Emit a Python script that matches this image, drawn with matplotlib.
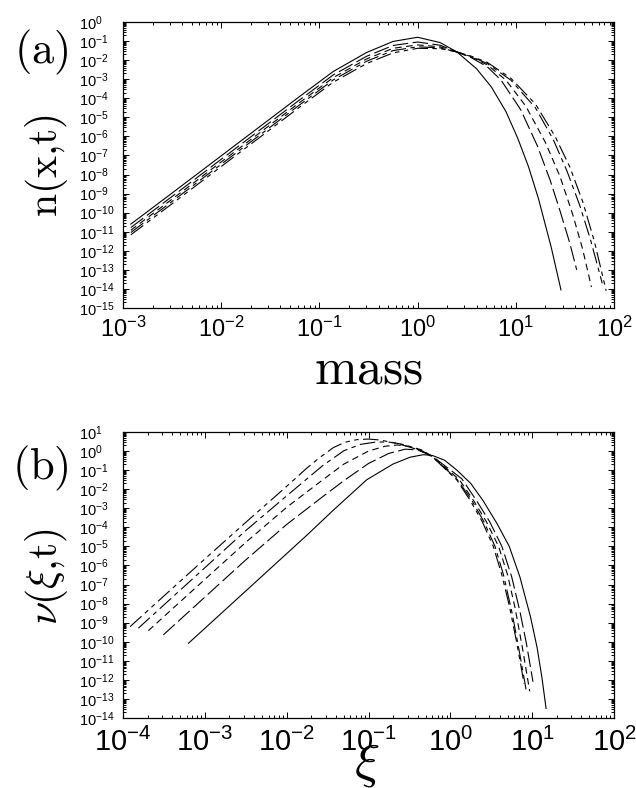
import numpy as np
import matplotlib
matplotlib.use("Agg")
import matplotlib.pyplot as plt
from matplotlib.ticker import LogLocator, FixedLocator, LogFormatterSciNotation, NullFormatter

plt.rcParams['font.family'] = ['Liberation Sans', 'DejaVu Sans']
plt.rcParams['mathtext.fontset'] = 'custom'
plt.rcParams['mathtext.rm'] = 'Liberation Sans'
plt.rcParams['mathtext.it'] = 'Liberation Sans'

# ---- panel (a): log10(mass), log10(n), one pair per curve
a1_lx = [-2.92, -2.5, -2.0, -1.5, -1.2, -0.86, -0.52, -0.25, 0.0, 0.23, 0.40,
         0.60, 0.75, 0.90, 1.02, 1.13, 1.23, 1.36, 1.46]
a1_ly = [-10.60, -8.97, -7.02, -5.07, -3.90, -2.60, -1.60, -1.02, -0.80, -1.08, -1.57,
         -2.45, -3.40, -4.70, -6.10, -7.60, -9.25, -11.80, -14.05]
a2_lx = [-2.92, -2.5, -2.0, -1.5, -1.2, -0.86, -0.52, -0.25, 0.0, 0.23, 0.40,
         0.55, 0.71, 0.85, 1.05, 1.22, 1.35, 1.45, 1.55, 1.62]
a2_ly = [-10.78, -9.15, -7.20, -5.25, -4.08, -2.78, -1.80, -1.23, -1.05, -1.22, -1.57,
         -1.88, -2.35, -3.05, -4.60, -6.50, -8.30, -9.90, -11.60, -13.00]
a3_lx = [-2.92, -2.5, -2.0, -1.5, -1.2, -0.86, -0.52, -0.25, 0.0, 0.23, 0.40,
         0.55, 0.71, 0.90, 1.10, 1.30, 1.45, 1.58, 1.68, 1.77]
a3_ly = [-10.92, -9.29, -7.34, -5.39, -4.22, -2.92, -1.94, -1.38, -1.20, -1.30, -1.57,
         -1.85, -2.25, -3.05, -4.40, -6.30, -8.10, -10.10, -11.90, -13.90]
a4_lx = [-2.92, -2.5, -2.0, -1.5, -1.2, -0.86, -0.52, -0.25, 0.0, 0.23, 0.40,
         0.55, 0.71, 0.95, 1.20, 1.38, 1.52, 1.65, 1.76, 1.88]
a4_ly = [-11.04, -9.41, -7.46, -5.51, -4.34, -3.04, -2.06, -1.50, -1.30, -1.36, -1.57,
         -1.82, -2.18, -3.05, -4.50, -6.15, -7.80, -9.60, -11.40, -13.70]
a5_lx = [-2.92, -2.5, -2.0, -1.5, -1.2, -0.86, -0.52, -0.25, 0.0, 0.23, 0.40,
         0.55, 0.71, 0.95, 1.20, 1.40, 1.55, 1.68, 1.80, 1.92]
a5_ly = [-11.16, -9.53, -7.58, -5.63, -4.46, -3.16, -2.18, -1.62, -1.38, -1.40, -1.57,
         -1.80, -2.12, -2.95, -4.30, -6.00, -7.60, -9.40, -11.50, -14.10]

# ---- panel (b): log10(xi), log10(nu)
b1_lx = [-3.20, -2.5, -2.0, -1.755, -1.43, -1.02, -0.70, -0.49, -0.33, -0.22, -0.07,
         0.08, 0.25, 0.40, 0.57, 0.72, 0.85, 0.98, 1.06, 1.12, 1.17]
b1_ly = [-10.08, -7.34, -5.38, -4.42, -3.10, -1.50, -0.68, -0.32, -0.19, -0.23, -0.48,
         -1.00, -1.70, -2.60, -3.80, -5.00, -6.60, -8.70, -10.30, -11.90, -13.50]
b2_lx = [-3.507, -3.0, -2.5, -2.0, -1.556, -1.3, -1.0, -0.75, -0.55, -0.40, -0.22,
         0.14, 0.32, 0.48, 0.63, 0.75, 0.85, 0.93, 1.01]
b2_ly = [-9.64, -7.66, -5.71, -3.85, -2.38, -1.55, -0.65, -0.12, 0.10, 0.06, -0.27,
         -1.45, -2.60, -3.70, -5.00, -6.60, -8.40, -10.10, -12.10]
b3_lx = [-3.69, -3.0, -2.5, -2.0, -1.556, -1.3, -1.0, -0.8, -0.65, -0.5, -0.35, -0.22,
         0.11, 0.28, 0.44, 0.59, 0.70, 0.79, 0.88, 0.97]
b3_ly = [-9.42, -6.73, -4.79, -2.95, -1.50, -0.68, 0.0, 0.25, 0.32, 0.25, 0.06, -0.28,
         -1.50, -2.57, -3.70, -5.00, -6.50, -8.20, -10.30, -12.60]
b4_lx = [-3.813, -3.5, -3.0, -2.5, -2.0, -1.556, -1.3, -1.1, -0.9, -0.75, -0.6, -0.45,
         -0.33, -0.22, 0.09, 0.26, 0.41, 0.546, 0.65, 0.75, 0.83, 0.88, 0.925]
b4_ly = [-9.29, -8.07, -6.12, -4.17, -2.35, -0.75, 0.02, 0.35, 0.48, 0.47, 0.37, 0.17,
         -0.02, -0.29, -1.52, -2.57, -3.70, -5.00, -6.50, -8.40, -10.20, -11.40, -12.50]
b5_lx = [-3.914, -3.5, -3.0, -2.5, -2.0, -1.755, -1.6, -1.43, -1.29, -1.14, -1.0, -0.86,
         -0.68, -0.49, -0.35, -0.22, 0.08, 0.24, 0.39, 0.525, 0.63, 0.72, 0.80, 0.86, 0.90]
b5_ly = [-9.21, -7.60, -5.66, -3.74, -1.85, -0.90, -0.35, 0.18, 0.46, 0.60, 0.63, 0.58,
         0.43, 0.20, 0.00, -0.30, -1.52, -2.57, -3.70, -5.00, -6.50, -8.10, -9.80, -11.20, -12.20]

styles = ['-', (0, (14, 4)), (0, (6, 4)), (0, (14, 4, 4, 4)), (0, (14, 4, 4, 4, 4, 4))]

panel_a = [(a1_lx, a1_ly), (a2_lx, a2_ly), (a3_lx, a3_ly), (a4_lx, a4_ly), (a5_lx, a5_ly)]
panel_b = [(b1_lx, b1_ly), (b2_lx, b2_ly), (b3_lx, b3_ly), (b4_lx, b4_ly), (b5_lx, b5_ly)]

W, H = 636, 788
fig = plt.figure(figsize=(W / 100, H / 100), dpi=100)


def setup(ax, xlim, ylim, xfs, xpad):
    ax.set_xscale('log')
    ax.set_yscale('log')
    ax.set_xlim(10.0 ** xlim[0], 10.0 ** xlim[1])
    ax.set_ylim(10.0 ** ylim[0], 10.0 ** ylim[1])
    ax.xaxis.set_major_locator(FixedLocator(10.0 ** np.arange(xlim[0], xlim[1] + 1)))
    ax.yaxis.set_major_locator(FixedLocator(10.0 ** np.arange(ylim[0], ylim[1] + 1)))
    for axis in (ax.xaxis, ax.yaxis):
        axis.set_major_formatter(LogFormatterSciNotation())
        axis.set_minor_locator(LogLocator(base=10, subs=np.arange(2, 10), numticks=100))
        axis.set_minor_formatter(NullFormatter())
    ax.tick_params(which='both', direction='in', top=True, right=True, width=0.7)
    ax.tick_params(which='major', length=4.5)
    ax.tick_params(which='minor', length=2.2)
    ax.tick_params(axis='x', labelsize=xfs, pad=xpad)
    ax.tick_params(axis='y', labelsize=10.5, pad=32)
    for lbl in ax.get_yticklabels():
        lbl.set_horizontalalignment('left')
    for sp in ax.spines.values():
        sp.set_linewidth(0.9)


ax1 = fig.add_axes([123 / W, 1 - 308 / H, 491 / W, 286 / H])
for (lx, ly), ls in zip(panel_a, styles):
    ax1.plot(10.0 ** np.array(lx), 10.0 ** np.array(ly), color='black', lw=0.8, linestyle=ls)
setup(ax1, (-3, 2), (-15, 0), 17, 6)

ax2 = fig.add_axes([123 / W, 1 - 718 / H, 491 / W, 286 / H])
for (lx, ly), ls in zip(panel_b, styles):
    ax2.plot(10.0 ** np.array(lx), 10.0 ** np.array(ly), color='black', lw=0.8, linestyle=ls)
setup(ax2, (-4, 2), (-14, 1), 21, 7)

fig.text(41 / W, 1 - 52 / H, r'$\mathrm{(a)}$', fontsize=32, math_fontfamily='cm',
         ha='center', va='center')
fig.text(47 / W, 1 - 165 / H, r'$\mathrm{n(x{,}t)}$', fontsize=30, math_fontfamily='cm',
         ha='center', va='center', rotation=90)
fig.text(369 / W, 1 - 370 / H, r'$\mathrm{mass}$', fontsize=37, math_fontfamily='cm',
         ha='center', va='center')
fig.text(40 / W, 1 - 468 / H, r'$\mathrm{(b)}$', fontsize=32, math_fontfamily='cm',
         ha='center', va='center')
fig.text(47 / W, 1 - 577 / H, r'$\nu(\xi{,}\mathrm{t})$', fontsize=30, math_fontfamily='cm',
         ha='center', va='center', rotation=90)
fig.text(367 / W, 1 - 764 / H, r'$\xi$', fontsize=38, math_fontfamily='cm',
         ha='center', va='center')

fig.savefig('out.png', dpi=100)
